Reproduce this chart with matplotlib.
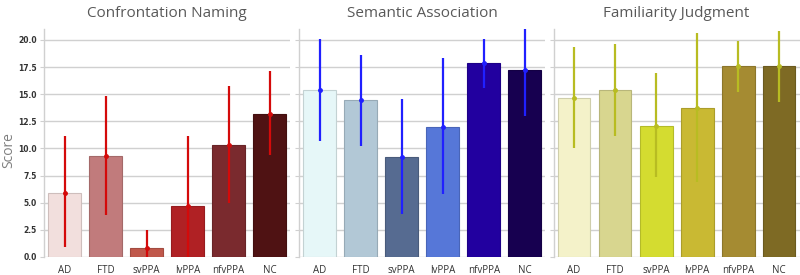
import matplotlib
matplotlib.use("Agg")
import matplotlib.pyplot as plt
import numpy as np

groups = ["AD", "FTD", "svPPA", "lvPPA", "nfvPPA", "NC"]

naming_mean = [5.9, 9.3, 0.85, 4.7, 10.3, 13.2]
naming_lo = [0.9, 3.85, -0.8, -1.7, 5.0, 9.4]
naming_hi = [11.1, 14.85, 2.5, 11.1, 15.75, 17.15]

semantic_mean = [15.4, 14.45, 9.25, 12.0, 17.85, 17.2]
semantic_lo = [10.7, 10.25, 3.95, 5.8, 15.6, 12.95]
semantic_hi = [20.05, 18.65, 14.55, 18.3, 20.05, 21.5]

familiar_mean = [14.65, 15.35, 12.1, 13.75, 17.55, 17.55]
familiar_lo = [10.0, 11.15, 7.4, 6.9, 15.2, 14.25]
familiar_hi = [19.3, 19.6, 16.95, 20.6, 19.9, 20.8]

titles = ["Confrontation Naming", "Semantic Association", "Familiarity Judgment"]
yticks = [0, 2.5, 5, 7.5, 10, 12.5, 15, 17.5, 20]

panels = [
    (naming_mean, naming_lo, naming_hi,
     ["#f2dfdd", "#c17b7c", "#c0584b", "#b02124", "#7a2a2e", "#4f1213"], "#d40a0a"),
    (semantic_mean, semantic_lo, semantic_hi,
     ["#e6f7f8", "#b2c8d6", "#566b91", "#5677d8", "#22009f", "#170050"], "#2020ff"),
    (familiar_mean, familiar_lo, familiar_hi,
     ["#f4f2c9", "#d8d68f", "#d4dc30", "#c9b933", "#a58b32", "#7e6a24"], "#b8bc22"),
]

fig = plt.figure(figsize=(8, 2.75), dpi=100)
lefts = [0.055, 0.374, 0.692]
width = 0.3075
bottom, top = 0.0655, 0.8945

x = np.arange(len(groups))
for i, (mean, lo, hi, cols, ecol) in enumerate(panels):
    ax = fig.add_axes([lefts[i], bottom, width, top - bottom])
    ax.set_axisbelow(True)
    ax.yaxis.grid(True, color="#d0d0d0", linewidth=1.0)
    edge = [matplotlib.colors.to_rgba(c) for c in cols]
    edge = [(r * 0.85, g * 0.85, b * 0.85, 1) for r, g, b, a in edge]
    ax.bar(x, mean, width=0.8, color=cols, edgecolor=edge, linewidth=0.8)
    ax.vlines(x, lo, hi, color=ecol, linewidth=1.6, zorder=3)
    ax.plot(x, mean, "o", color=ecol, markersize=2.5, zorder=4)
    ax.set_xlim(-0.5, len(groups) - 0.5)
    ax.set_ylim(0, 21)
    ax.set_yticks(yticks)
    ax.set_xticks(x)
    ax.set_xticklabels(groups, fontsize=7, color="#333333", family="Open Sans")
    ax.tick_params(axis="x", length=0, pad=6)
    ax.tick_params(axis="y", length=3, color="#d0d0d0", width=0.8)
    for s in ["top", "right", "bottom"]:
        ax.spines[s].set_visible(False)
    ax.spines["left"].set_color("#d0d0d0")
    ax.spines["left"].set_linewidth(1.0)
    if i == 0:
        ax.set_yticklabels(["%.1f" % v for v in yticks], fontsize=5.5,
                           color="#333333", fontweight="bold")
        ax.tick_params(axis="y", pad=2)
        ax.set_ylabel("Score", fontsize=10, color="#808080", family="Open Sans")
        ax.yaxis.set_label_coords(-0.112, 0.47)
    else:
        ax.set_yticklabels([])
    ax.set_title(titles[i], fontsize=11, color="#595959", family="Open Sans", pad=9)

fig.savefig("out.png", dpi=100)
